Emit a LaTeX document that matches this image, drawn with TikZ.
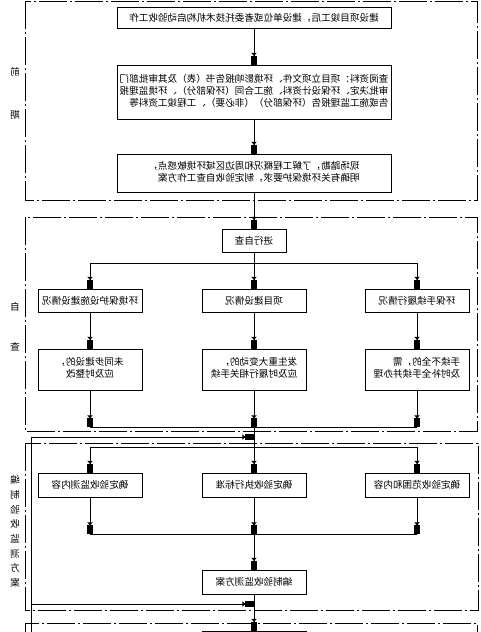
\documentclass[tikz,border=0pt]{standalone}
\usepackage{fontspec}
\usepackage{graphicx}
\setmainfont{Noto Sans CJK SC}
\usetikzlibrary{arrows.meta}
\newcommand\mirtext[1]{\scalebox{-1}[1]{#1}}
\begin{document}
\begin{tikzpicture}[x=0.75pt,y=-0.75pt,
  font=\fontsize{7.2}{9}\selectfont,
  box/.style={draw,line width=0.75pt,inner sep=0pt,align=center},
  wbox/.style={box,minimum width=205.5pt},
  sbox/.style={box,minimum width=78pt},
  frame/.style={line width=0.75pt,dash pattern=on 21pt off 2.25pt on 1.5pt off 2.25pt},
  conn/.style={line width=0.75pt},
  arr/.style={conn,-{Triangle[length=2.2pt,width=4pt]Rectangle[length=6.5pt,width=3.8pt]}},
  lab/.style={inner sep=0pt}]
\useasboundingbox (0,0) rectangle (481,632);
\clip (0,0) rectangle (481,632);
% frames
\draw[frame] (25,1) rectangle (477,200);
\draw[frame] (25,217) rectangle (477,431);
\draw[frame] (25,443) rectangle (478,610);
\draw[frame] (25,623) rectangle (477,700);
% side labels
\node[lab] (q1) at (15,72) {\mirtext{前}};
\node[lab] (q2) at (15,115) {\mirtext{期}};
\node[lab] (z1) at (15,307) {\mirtext{自}};
\node[lab] (z2) at (15,347) {\mirtext{查}};
\node[lab] (m1) at (15,480) {\mirtext{编}};
\node[lab] (m2) at (15,494.7) {\mirtext{制}};
\node[lab] (m3) at (15,509.4) {\mirtext{验}};
\node[lab] (m4) at (15,524.1) {\mirtext{收}};
\node[lab] (m5) at (15,538.8) {\mirtext{监}};
\node[lab] (m6) at (15,553.5) {\mirtext{测}};
\node[lab] (m7) at (15,568.2) {\mirtext{方}};
\node[lab] (m8) at (15,583) {\mirtext{案}};
% phase 1
\node[wbox,minimum height=15.75pt] (b1) at (254,17.5)
  {\mirtext{建设项目竣工后，建设单位或者委托技术机构启动验收工作}};
\node[wbox,minimum height=40.5pt] (b2) at (254,92)
  {\mirtext{\begin{tabular}{@{}l@{}}查阅资料：项目立项文件、环境影响报告书（表）及其审批部门\\
  审批决定、环保设计资料、施工合同（环保部分）、环境监理报\\
  告或施工监理报告（环保部分）（非必要）、工程竣工资料等\end{tabular}}};
\node[wbox,minimum height=28.5pt] (b3) at (254,173)
  {\mirtext{\begin{tabular}{@{}l@{}}现场踏勘，了解工程概况和周边区域环境敏感点，\\
  明确有关环境保护要求，制定验收自查工作方案\end{tabular}}};
% phase 2
\node[box,minimum width=48pt,minimum height=17.25pt] (b4) at (254,240.5) {\mirtext{进行自查}};
\node[sbox,minimum height=17.25pt] (L1) at (90,300.5) {\mirtext{环境保护设施建设情况}};
\node[sbox,minimum height=17.25pt] (M1) at (254,300.5) {\mirtext{项目建设情况}};
\node[sbox,minimum height=17.25pt] (R1) at (417,300.5) {\mirtext{环保手续履行情况}};
\node[sbox,minimum height=30.75pt] (L2) at (90,369.5)
  {\mirtext{\begin{tabular}{@{}c@{}}未同步建设的，\\应及时整改\end{tabular}}};
\node[sbox,minimum height=30.75pt] (M2) at (254,369.5)
  {\mirtext{\begin{tabular}{@{}l@{}}发生重大变动的，\\应及时履行相关手续\end{tabular}}};
\node[sbox,minimum height=30.75pt] (R2) at (417,369.5)
  {\mirtext{\begin{tabular}{@{}l@{}}手续不全的，需\\及时补全手续并办理\end{tabular}}};
% phase 3
\node[sbox,minimum height=18pt] (L3) at (90,485) {\mirtext{确定验收监测内容}};
\node[sbox,minimum height=18pt] (M3) at (254,485) {\mirtext{确定验收执行标准}};
\node[sbox,minimum height=18pt] (R3) at (417,485) {\mirtext{确定验收范围和内容}};
\node[sbox,minimum height=18pt] (b8) at (254,582) {\mirtext{编制验收监测方案}};
\node[sbox,minimum height=21pt] (b9) at (254,645) {};
% junctions
\coordinate (jl1) at (90,263);  \coordinate (jr1) at (417,263);
\coordinate (jl2) at (90,427);  \coordinate (j2) at (254,427);  \coordinate (jr2) at (417,427);
\coordinate (jl3) at (90,447);  \coordinate (jr3) at (417,447);
\coordinate (jl4) at (90,534);  \coordinate (j4) at (254,534);  \coordinate (jr4) at (417,534);
\coordinate (fb0) at (31,640);  \coordinate (fb1) at (31,437);  \coordinate (fb2) at (31,604);
\coordinate (fe1) at (254,437); \coordinate (fe2) at (254,604);
% connectors
\draw[arr] (b1) -- (b2);
\draw[arr] (b2) -- (b3);
\draw[arr] (b3) -- (b4);
\draw[conn] (jl1) -- (jr1);
\draw[arr] (b4) -- (M1);
\draw[arr] (jl1) -- (L1);
\draw[arr] (jr1) -- (R1);
\draw[arr] (L1) -- (L2);
\draw[arr] (M1) -- (M2);
\draw[arr] (R1) -- (R2);
\draw[arr] (L2) -- (jl2);
\draw[arr] (R2) -- (jr2);
\draw[arr] (M2) -- (j2);
\draw[conn] (jl2) -- (jr2);
\draw[conn] (jl3) -- (jr3);
\draw[arr] (j2) -- (M3);
\draw[arr] (jl3) -- (L3);
\draw[arr] (jr3) -- (R3);
\draw[arr] (L3) -- (jl4);
\draw[arr] (M3) -- (j4);
\draw[arr] (R3) -- (jr4);
\draw[conn] (jl4) -- (jr4);
\draw[arr] (j4) -- (b8);
\draw[arr] (b8) -- (b9);
\draw[conn] (fb0) -- (fb1);
\draw[arr] (fb1) -- (fe1);
\draw[arr] (fb2) -- (fe2);
\end{tikzpicture}
\end{document}
